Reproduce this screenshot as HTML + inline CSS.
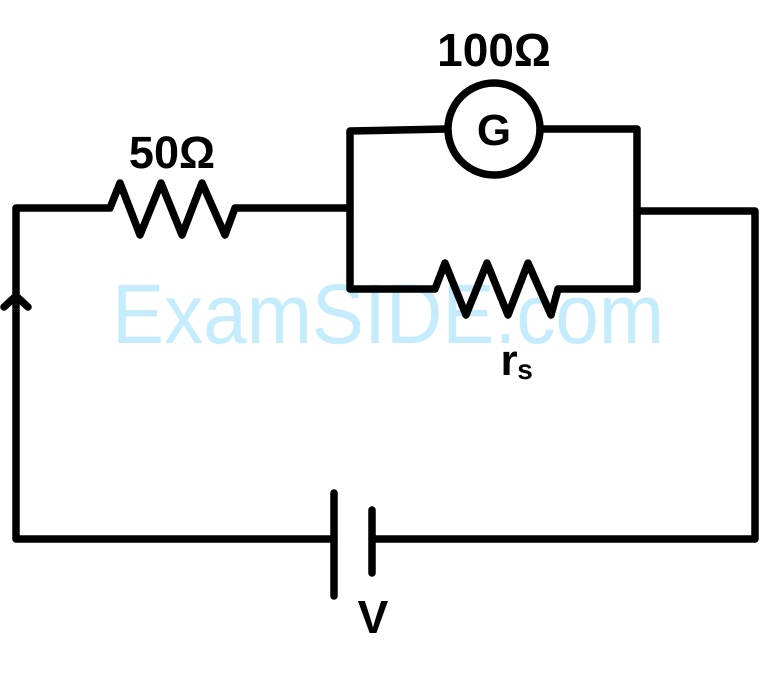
<!DOCTYPE html>
<html><head><meta charset="utf-8"><style>html,body{margin:0;padding:0;background:#fff}svg{display:block}</style></head>
<body>
<svg width="761" height="676" viewBox="0 0 761 676" xmlns="http://www.w3.org/2000/svg">
<text x="112" y="343" font-family="Liberation Sans, sans-serif" font-size="84" fill="#c4ecfc" textLength="552" lengthAdjust="spacingAndGlyphs">ExamSIDE.com</text>
<g fill="none" stroke="#000" stroke-width="7.5" stroke-linecap="round" stroke-linejoin="round">
<polyline points="334,539 16,539 16,208 110,208 120,183 140,235 161,183 182,235 202,183 225,235 235,208 350,208"/>
<polyline points="4,307 16,296 28,307"/>
<polyline points="446,129 350,131 350,289 435,289 445,263 466,315 487,263 508,315 528,263 551,315 558,289 637,289 637,129 542,129"/>
<circle cx="494" cy="129" r="46"/>
<polyline points="637,211 755,211 755,539 372,539"/>
<line x1="334" y1="493" x2="334" y2="596"/>
<line x1="372" y1="510" x2="372" y2="573"/>
</g>
<g font-family="Liberation Sans, sans-serif" font-weight="bold" fill="#000" text-anchor="middle">
<text x="172" y="168" font-size="45">50Ω</text>
<text x="494" y="66" font-size="46">100Ω</text>
<text x="494" y="145" font-size="44">G</text>
<text x="373" y="633" font-size="46">V</text>
<text x="509" y="375" font-size="44">r</text>
<text x="525" y="379" font-size="28">s</text>
</g>
</svg>
</body></html>
